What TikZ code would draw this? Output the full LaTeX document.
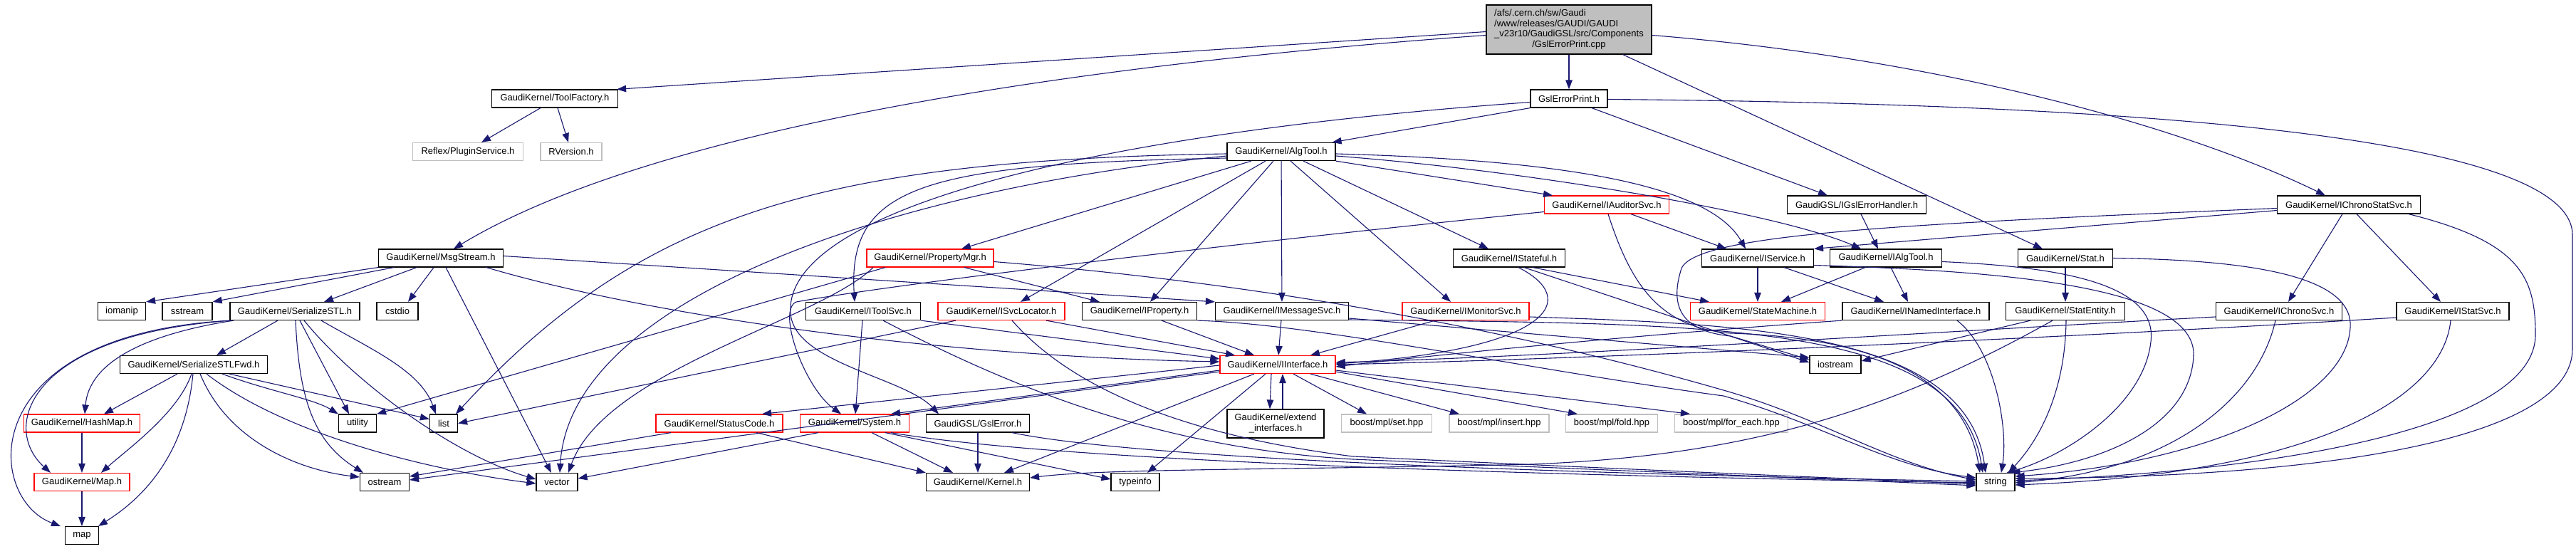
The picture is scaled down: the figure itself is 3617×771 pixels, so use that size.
\documentclass[tikz,border=0pt]{standalone}
\usepackage{fontspec}
\setmainfont{Liberation Sans}
\usetikzlibrary{arrows.meta}
\definecolor{edgec}{HTML}{191970}
\definecolor{greyb}{HTML}{BFBFBF}
\newcommand\lblfont{\fontsize{13}{14.7}\selectfont}
\begin{document}
\begin{tikzpicture}[x=1pt,y=-1pt,
  box/.style={draw=black, line width=1.2pt, fill=white, minimum height=25pt, inner sep=0pt, font=\lblfont, text=black},
  redbox/.style={box, draw=red},
  greybox/.style={box, draw=greyb},
  rootbox/.style={box, fill=greyb, minimum height=69pt},
  e/.style={draw=edgec, line width=1.1pt, -{Triangle[length=13pt,width=9.5pt]}}
]
\useasboundingbox (0,0) rectangle (3617,771);
\fill[white] (0,0) rectangle (3617,771);

% ---------- nodes ----------
\node[rootbox, minimum width=232pt] (root) at (2203,41.5) {\begin{tabular}{@{}l@{}}/afs/.cern.ch/sw/Gaudi\\/www/releases/GAUDI/GAUDI\\\_v23r10/GaudiGSL/src/Components\\\multicolumn{1}{@{}c@{}}{/GslErrorPrint.cpp}\end{tabular}};
\node[box, minimum width=177pt] (toolfactory) at (779,138.5) {GaudiKernel/ToolFactory.h};
\node[box, minimum width=108pt] (gslprinth) at (2203,138.5) {GslErrorPrint.h};
\node[greybox, minimum width=155pt] (reflex) at (657,213) {Reflex/PluginService.h};
\node[greybox, minimum width=86pt] (rversion) at (802,213) {RVersion.h};
\node[box, minimum width=152pt] (algtool) at (1799,213) {GaudiKernel/AlgTool.h};
\node[redbox, minimum width=175pt] (iauditorsvc) at (2256,287.5) {GaudiKernel/IAuditorSvc.h};
\node[box, minimum width=195pt] (igslerrh) at (2607,287.5) {GaudiGSL/IGslErrorHandler.h};
\node[box, minimum width=201pt] (ichronostatsvc) at (3298,287.5) {GaudiKernel/IChronoStatSvc.h};
\node[box, minimum width=175pt] (msgstream) at (619,362.5) {GaudiKernel/MsgStream.h};
\node[redbox, minimum width=178pt] (propertymgr) at (1306,362.5) {GaudiKernel/PropertyMgr.h};
\node[box, minimum width=157pt] (istateful) at (2119,362.5) {GaudiKernel/IStateful.h};
\node[box, minimum width=157pt] (iservice) at (2468,362.5) {GaudiKernel/IService.h};
\node[box, minimum width=157pt] (ialgtool) at (2648,362.5) {GaudiKernel/IAlgTool.h};
\node[box, minimum width=133pt] (stat) at (2900,362.5) {GaudiKernel/Stat.h};
\node[box, minimum width=67pt] (iomanip) at (171,437) {iomanip};
\node[box, minimum width=70pt] (sstream) at (263,437) {sstream};
\node[box, minimum width=182pt] (serializestl) at (414,437) {GaudiKernel/SerializeSTL.h};
\node[box, minimum width=58pt] (cstdio) at (558,437) {cstdio};
\node[box, minimum width=161pt] (itoolsvc) at (1212,437) {GaudiKernel/IToolSvc.h};
\node[redbox, minimum width=178pt] (isvclocator) at (1406,437) {GaudiKernel/ISvcLocator.h};
\node[box, minimum width=161pt] (iproperty) at (1600,437) {GaudiKernel/IProperty.h};
\node[box, minimum width=187pt] (imessagesvc) at (1800,437) {GaudiKernel/IMessageSvc.h};
\node[redbox, minimum width=178pt] (imonitorsvc) at (2058,437) {GaudiKernel/IMonitorSvc.h};
\node[redbox, minimum width=189pt] (statemachine) at (2468,437) {GaudiKernel/StateMachine.h};
\node[box, minimum width=206pt] (inamedif) at (2690,437) {GaudiKernel/INamedInterface.h};
\node[box, minimum width=167pt] (statentity) at (2900,437) {GaudiKernel/StatEntity.h};
\node[box, minimum width=177pt] (ichronosvc) at (3200,437) {GaudiKernel/IChronoSvc.h};
\node[box, minimum width=158pt] (istatsvc) at (3444,437) {GaudiKernel/IStatSvc.h};
\node[box, minimum width=207pt] (serializestlfwd) at (272,512) {GaudiKernel/SerializeSTLFwd.h};
\node[redbox, minimum width=162pt] (iinterface) at (1794,512) {GaudiKernel/IInterface.h};
\node[box, minimum width=72pt] (iostream) at (2577,512) {iostream};
\node[redbox, minimum width=163pt] (hashmap) at (115,594.5) {GaudiKernel/HashMap.h};
\node[box, minimum width=53pt] (utility) at (502,594.5) {utility};
\node[box, minimum width=39pt] (list) at (623,594.5) {list};
\node[redbox, minimum width=178pt] (statuscode) at (1010,594.5) {GaudiKernel/StatusCode.h};
\node[redbox, minimum width=153pt] (system) at (1200,594.5) {GaudiKernel/System.h};
\node[box, minimum width=145pt] (gslerror) at (1373,594.5) {GaudiGSL/GslError.h};
\node[box, minimum width=136pt, minimum height=40pt] (extendif) at (1791,595) {\begin{tabular}{@{}c@{}}GaudiKernel/extend\\\_interfaces.h\end{tabular}};
\node[greybox, minimum width=127pt] (mplset) at (1947,594.5) {boost/mpl/set.hpp};
\node[greybox, minimum width=140pt] (mplinsert) at (2105,594.5) {boost/mpl/insert.hpp};
\node[greybox, minimum width=129pt] (mplfold) at (2263,594.5) {boost/mpl/fold.hpp};
\node[greybox, minimum width=159pt] (mplforeach) at (2431,594.5) {boost/mpl/for\_each.hpp};
\node[redbox, minimum width=134pt] (maph) at (115,677) {GaudiKernel/Map.h};
\node[box, minimum width=69pt] (ostream) at (540,677) {ostream};
\node[box, minimum width=58pt] (vector) at (782,677) {vector};
\node[box, minimum width=145pt] (kernel) at (1373,677) {GaudiKernel/Kernel.h};
\node[box, minimum width=68pt] (typeinfo) at (1594,677) {typeinfo};
\node[box, minimum width=54pt] (string) at (2802,677) {string};
\node[box, minimum width=47pt] (map) at (115,752) {map};

% ---------- edges ----------
% root
\draw[e] ([yshift=-3pt]root.west) -- ([xshift=-2pt]toolfactory.north east);
\draw[e] ([yshift=-8pt]root.west) .. controls (1450,95) and (900,190) .. ([xshift=18pt]msgstream.north);
\draw[e] (root) -- (gslprinth);
\draw[e] ([yshift=-8pt]root.east) .. controls (2700,80) and (3050,170) .. ([xshift=-33pt]ichronostatsvc.north);
\draw[e] ([xshift=-41pt]root.south east) -- ([xshift=-32pt]stat.north);
% ToolFactory
\draw[e] ([xshift=-20pt]toolfactory.south) -- ([xshift=19pt]reflex.north);
\draw[e] ([xshift=4pt]toolfactory.south) -- ([xshift=-4pt]rversion.north);
% GslErrorPrint.h
\draw[e] (gslprinth.south west) -- ([xshift=-5pt]algtool.north east);
\draw[e] ([xshift=32pt]gslprinth.south) -- ([xshift=-41pt]igslerrh.north);
\draw[e] ([yshift=-5pt]gslprinth.west) .. controls (1500,190) and (1100,300) .. (1110,440) .. controls (1115,510) and (1270,530) .. ([xshift=-55pt]gslerror.north);
\draw[e] ([yshift=-1pt]gslprinth.east) .. controls (2900,145) and (3612,180) .. (3612,330) -- (3612,490) .. controls (3612,610) and (3300,670) .. ([yshift=5pt]string.east);
% AlgTool
\draw[e] ([xshift=-42pt]algtool.south) -- ([xshift=44pt]propertymgr.north);
\draw[e] ([yshift=-3pt]algtool.west) .. controls (1150,225) and (900,300) .. ([xshift=17pt]list.north);
\draw[e] ([yshift=-6pt]algtool.west) .. controls (1250,265) and (800,420) .. ([xshift=4pt]vector.north);
\draw[e] ([yshift=-9pt]algtool.west) .. controls (1300,230) and (1190,260) .. ([xshift=-12pt]itoolsvc.north);
\draw[e] ([xshift=-22pt]algtool.south) -- ([xshift=27pt]isvclocator.north);
\draw[e] ([xshift=-11pt]algtool.south) -- ([xshift=15pt]iproperty.north);
\draw[e] (algtool) -- (imessagesvc);
\draw[e] ([xshift=13pt]algtool.south) -- ([xshift=-21pt]imonitorsvc.north);
\draw[e] ([xshift=31pt]algtool.south) -- ([xshift=-29pt]istateful.north);
\draw[e] (algtool.south east) -- ([xshift=-76pt]iauditorsvc.north);
\draw[e] ([yshift=-3pt]algtool.east) .. controls (2200,225) and (2400,260) .. ([xshift=-17pt]iservice.north);
\draw[e] ([yshift=-6pt]algtool.east) .. controls (2150,240) and (2500,300) .. ([xshift=-35pt]ialgtool.north);
% IAuditorSvc
\draw[e] ([xshift=34pt]iauditorsvc.south) -- ([xshift=-44pt]iservice.north);
\draw[e] ([yshift=-10pt]iauditorsvc.west) .. controls (1700,345) and (1250,400) .. (1118,424) .. controls (1090,436) and (1130,545) .. ([xshift=-19pt]system.north);
\draw[e] ([xshift=2pt]iauditorsvc.south) .. controls (2290,400) and (2330,460) .. (2430,468) .. controls (2650,475) and (2760,540) .. ([xshift=-22pt]string.north);
% IGslErrorHandler
\draw[e] ([xshift=6pt]igslerrh.south) -- ([xshift=-11pt]ialgtool.north);
% IChronoStatSvc
\draw[e] ([yshift=-8pt]ichronostatsvc.west) -- (iservice.north east);
\draw[e] ([yshift=-5pt]ichronostatsvc.west) .. controls (2650,315) and (2370,330) .. (2360,380) .. controls (2345,430) and (2360,465) .. (2430,472) -- ([yshift=7pt]iostream.west);
\draw[e] ([xshift=-9pt]ichronostatsvc.south) -- ([xshift=13pt]ichronosvc.north);
\draw[e] ([xshift=11pt]ichronostatsvc.south) -- ([xshift=-17pt]istatsvc.north);
\draw[e] ([xshift=84pt]ichronostatsvc.south) .. controls (3540,340) and (3560,390) .. (3560,470) .. controls (3560,600) and (3200,662) .. ([yshift=2pt]string.east);
% IChronoSvc, IStatSvc
\draw[e] ([yshift=-8pt]ichronosvc.west) .. controls (2700,467) and (2200,500) .. ([yshift=3pt]iinterface.east);
\draw[e] ([xshift=-5pt]ichronosvc.south) .. controls (3170,560) and (3050,660) .. ([yshift=-1pt]string.east);
\draw[e] ([yshift=-9pt]istatsvc.west) .. controls (2900,475) and (2200,505) .. (iinterface.east);
\draw[e] ([xshift=-3pt]istatsvc.south) .. controls (3430,560) and (3250,665) .. ([yshift=-4pt]string.east);
% Stat
\draw[e] (stat) -- (statentity);
\draw[e] (stat.east) .. controls (3150,365) and (3305,385) .. (3300,460) .. controls (3295,560) and (3100,650) .. ([yshift=8pt]string.east);
% StatEntity
\draw[e] ([xshift=-49pt]statentity.south) -- ([yshift=5pt]iostream.east);
\draw[e] ([xshift=1pt]statentity.south) .. controls (2900,540) and (2870,610) .. ([xshift=18pt]string.north);
\draw[e] ([xshift=-18pt]statentity.south) .. controls (2650,580) and (2450,640) .. (2150,652) .. controls (1800,660) and (1550,658) .. ([yshift=6pt]kernel.east);
% INamedInterface
\draw[e] (inamedif.south west) .. controls (2300,470) and (2000,500) .. ([yshift=-3pt]iinterface.east);
\draw[e] ([xshift=58pt]inamedif.south) .. controls (2800,490) and (2820,600) .. ([xshift=8pt]string.north);
% IService
\draw[e] (iservice) -- (statemachine);
\draw[e] ([xshift=37pt]iservice.south) -- ([xshift=-45pt]inamedif.north);
\draw[e] ([yshift=-10pt]iservice.east) .. controls (2800,380) and (3085,400) .. (3080,500) .. controls (3075,600) and (2950,650) .. ([xshift=-6pt]string.north east);
% IAlgTool
\draw[e] ([xshift=-29pt]ialgtool.south) -- ([xshift=33pt]statemachine.north);
\draw[e] ([xshift=7pt]ialgtool.south) -- ([xshift=-11pt]inamedif.north);
\draw[e] ([yshift=-5pt]ialgtool.east) .. controls (2900,375) and (3030,400) .. (3020,480) .. controls (3010,570) and (2900,640) .. ([xshift=-12pt]string.north east);
% IStateful
\draw[e] ([xshift=13pt]istateful.south) .. controls (2220,420) and (2180,490) .. ([yshift=1pt]iinterface.east);
\draw[e] ([xshift=33pt]istateful.south) -- ([xshift=-68pt]statemachine.north);
\draw[e] ([xshift=21pt]istateful.south) -- ([yshift=3pt]iostream.west);
% IMonitorSvc
\draw[e] ([xshift=-43pt]imonitorsvc.south) -- ([xshift=46pt]iinterface.north);
\draw[e] ([yshift=-8pt]imonitorsvc.east) .. controls (2450,455) and (2760,465) .. ([xshift=-14pt]string.north);
% IMessageSvc
\draw[e] (imessagesvc) -- (iinterface);
\draw[e] ([yshift=-10pt]imessagesvc.east) -- ([yshift=10pt]iostream.west);
\draw[e] ([yshift=-12pt]imessagesvc.east) .. controls (2400,455) and (2750,450) .. ([xshift=-18pt]string.north);
% IProperty
\draw[e] ([xshift=31pt]iproperty.south) -- ([xshift=-33pt]iinterface.north);
\draw[e] (iproperty.south east) .. controls (1850,455) and (2150,520) .. (2420,556) .. controls (2560,596) and (2650,655) .. ([yshift=6pt]string.west);
% ISvcLocator
\draw[e] ([xshift=63pt]isvclocator.south) -- ([xshift=-60pt]iinterface.north);
\draw[e] ([xshift=-64pt]isvclocator.south) -- (list.east);
\draw[e] ([xshift=15pt]isvclocator.south) .. controls (1500,540) and (1650,610) .. (1900,641) .. controls (2300,660) and (2600,672) .. ([yshift=-3pt]string.west);
% IToolSvc
\draw[e] ([xshift=-1pt]itoolsvc.south) -- ([xshift=1pt]system.north);
\draw[e] (itoolsvc.south east) -- ([yshift=8pt]iinterface.west);
\draw[e] ([xshift=28pt]itoolsvc.south) .. controls (1450,560) and (1650,630) .. (1900,645) .. controls (2300,662) and (2600,674) .. ([yshift=-5pt]string.west);
% PropertyMgr
\draw[e] ([xshift=-63pt]propertymgr.south) -- (utility.north east);
\draw[e] ([xshift=-80pt]propertymgr.south) .. controls (1150,450) and (850,520) .. ([xshift=16pt]vector.north);
\draw[e] ([xshift=48pt]propertymgr.south) -- ([xshift=-56pt]iproperty.north);
\draw[e] ([yshift=-5pt]propertymgr.east) .. controls (1800,400) and (2150,470) .. (2420,548) .. controls (2560,588) and (2650,650) .. ([yshift=3pt]string.west);
% MsgStream
\draw[e] (msgstream.south west) -- (iomanip.north east);
\draw[e] ([xshift=-66pt]msgstream.south) -- (sstream.north east);
\draw[e] ([xshift=-34pt]msgstream.south) -- ([xshift=41pt]serializestl.north);
\draw[e] ([xshift=-10pt]msgstream.south) -- ([xshift=15pt]cstdio.north);
\draw[e] ([xshift=7pt]msgstream.south) -- ([xshift=-8pt]vector.north);
\draw[e] ([xshift=64pt]msgstream.south) .. controls (900,440) and (1300,500) .. ([yshift=4pt]iinterface.west);
\draw[e] ([yshift=3pt]msgstream.east) -- (imessagesvc.north west);
% SerializeSTL
\draw[e] ([xshift=-24pt]serializestl.south) -- ([xshift=32pt]serializestlfwd.north);
\draw[e] ([xshift=-86pt]serializestl.south) .. controls (200,470) and (125,510) .. ([xshift=4pt]hashmap.north);
\draw[e] ([xshift=-89pt]serializestl.south) .. controls (40,470) and (0,600) .. ([xshift=-44pt]maph.north);
\draw[e] ([xshift=-90pt]serializestl.south) .. controls (-40,470) and (-20,700) .. ([xshift=-30pt]map.north);
\draw[e] ([xshift=7pt]serializestl.south) -- ([xshift=-12pt]utility.north);
\draw[e] ([xshift=37pt]serializestl.south) .. controls (520,490) and (590,520) .. ([xshift=-11pt]list.north);
\draw[e] ([xshift=1pt]serializestl.south) .. controls (420,560) and (440,620) .. ([xshift=-30pt]ostream.north);
\draw[e] ([xshift=13pt]serializestl.south) .. controls (500,540) and (640,640) .. ([yshift=4pt]vector.west);
% SerializeSTLFwd
\draw[e] ([xshift=-23pt]serializestlfwd.south) -- ([xshift=31pt]hashmap.north);
\draw[e] ([xshift=-3pt]serializestlfwd.south) .. controls (250,580) and (180,630) .. ([xshift=27pt]maph.north);
\draw[e] ([xshift=-1pt]serializestlfwd.south) .. controls (260,640) and (200,700) .. ([xshift=23pt]map.north);
\draw[e] ([xshift=40pt]serializestlfwd.south) .. controls (380,550) and (440,560) .. (utility.north west);
\draw[e] ([xshift=50pt]serializestlfwd.south) -- ([yshift=6pt]list.west);
\draw[e] ([xshift=9pt]serializestlfwd.south) .. controls (320,620) and (420,660) .. ([yshift=7pt]ostream.west);
\draw[e] ([xshift=18pt]serializestlfwd.south) .. controls (400,610) and (600,660) .. ([yshift=-2pt]vector.west);
% HashMap, Map
\draw[e] (hashmap) -- (maph);
\draw[e] (maph) -- (map);
% IInterface
\draw[e] ([xshift=-33pt]iinterface.south) -- ([xshift=37pt]kernel.north);
\draw[e] ([xshift=-17pt]iinterface.south) -- ([xshift=17pt]typeinfo.north);
\draw[e] ([xshift=-9pt]iinterface.south) -- ([xshift=-8pt]extendif.north);
\draw[e] ([xshift=10pt]extendif.north) -- ([xshift=7pt]iinterface.south);
\draw[e] ([yshift=-8pt]iinterface.west) -- ([xshift=51pt]system.north);
\draw[e] ([yshift=-1pt]iinterface.west) -- ([xshift=60pt]statuscode.north);
\draw[e] ([yshift=-10pt]iinterface.west) -- ([yshift=3pt]ostream.east);
\draw[e] ([xshift=22pt]iinterface.south) -- ([xshift=-28pt]mplset.north);
\draw[e] ([xshift=46pt]iinterface.south) -- ([xshift=-56pt]mplinsert.north);
\draw[e] ([yshift=-10pt]iinterface.east) -- ([xshift=-48pt]mplfold.north);
\draw[e] ([yshift=-8pt]iinterface.east) -- ([xshift=-58pt]mplforeach.north);
% System
\draw[e] ([xshift=24pt]system.south) -- ([xshift=-35pt]kernel.north);
\draw[e] ([xshift=43pt]system.south) -- ([yshift=4pt]typeinfo.west);
\draw[e] ([xshift=-51pt]system.south) -- ([yshift=5pt]vector.east);
\draw[e] ([xshift=51pt]system.south) .. controls (1500,650) and (2200,668) .. ([yshift=-1pt]string.west);
% StatusCode
\draw[e] ([xshift=-68pt]statuscode.south) -- ([yshift=8pt]ostream.east);
\draw[e] ([xshift=52pt]statuscode.south) -- (kernel.north west);
% GslError
\draw[e] (gslerror) -- (kernel);
\draw[e] ([xshift=48pt]gslerror.south) .. controls (1600,645) and (2200,665) .. ([yshift=1pt]string.west);
\end{tikzpicture}
\end{document}
